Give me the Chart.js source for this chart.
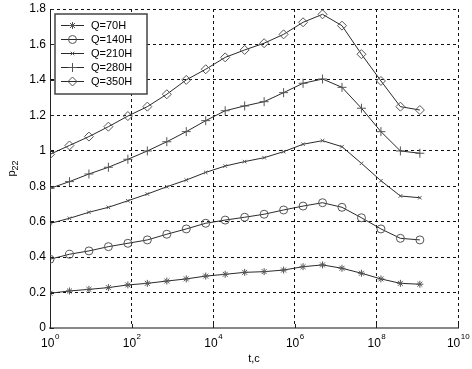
<!DOCTYPE html>
<html>
<head>
<meta charset="utf-8">
<script src="https://cdn.jsdelivr.net/npm/chart.js@4/dist/chart.umd.min.js"></script>
<style>
  html, body { margin: 0; padding: 0; background: #fff; }
  canvas { display: block; }
</style>
</head>
<body>
<canvas id="chart" width="472" height="369"></canvas>
<script>
// --- Data ---
const tValues = [1, 3, 9, 27, 81, 243, 729, 2187, 6561, 19683, 59049, 177147, 531441,
  1594323, 4782969, 14348907, 43046721, 129140163, 387420489, 1162261467];

const q70 = [0.196, 0.209, 0.218, 0.228, 0.243, 0.252, 0.265, 0.277, 0.293, 0.303,
  0.314, 0.318, 0.327, 0.346, 0.356, 0.337, 0.309, 0.277, 0.252, 0.247];
const q140 = [0.388, 0.416, 0.435, 0.459, 0.478, 0.497, 0.529, 0.559, 0.591, 0.609,
  0.625, 0.642, 0.666, 0.688, 0.707, 0.681, 0.622, 0.559, 0.506, 0.497];
const q210 = [0.590, 0.619, 0.653, 0.681, 0.718, 0.756, 0.797, 0.835, 0.878, 0.914,
  0.939, 0.961, 0.995, 1.037, 1.057, 1.023, 0.929, 0.831, 0.745, 0.735];
const q280 = [0.788, 0.826, 0.869, 0.907, 0.952, 0.999, 1.051, 1.108, 1.170, 1.226,
  1.253, 1.277, 1.328, 1.381, 1.405, 1.358, 1.240, 1.108, 0.999, 0.986];
const q350 = [0.980, 1.030, 1.080, 1.136, 1.196, 1.249, 1.319, 1.400, 1.460, 1.527,
  1.569, 1.607, 1.657, 1.725, 1.770, 1.706, 1.545, 1.394, 1.249, 1.230];

const seriesLabels = ['Q=70H', 'Q=140H', 'Q=210H', 'Q=280H', 'Q=350H'];
const xTickExps = [0, 2, 4, 6, 8, 10];
const yTicks = [0, 0.2, 0.4, 0.6, 0.8, 1, 1.2, 1.4, 1.6, 1.8];

const FONT = '"Liberation Sans", Arial, sans-serif';

// marker style per series
const markers = [
  { style: 'star', r: 3.5 },
  { style: 'circle', r: 4 },
  { style: 'crossRot', r: 2.5 },
  { style: 'cross', r: 4.5 },
  { style: 'rectRot', r: 4.5 }
];
const allSeries = [q70, q140, q210, q280, q350];

function makeDataset(values, i) {
  return {
    label: seriesLabels[i],
    data: values.map((v, k) => ({ x: tValues[k], y: v })),
    borderColor: '#2a2a2a',
    borderWidth: 1,
    pointStyle: markers[i].style,
    pointRadius: markers[i].r,
    pointBorderColor: '#555',
    pointBackgroundColor: 'rgba(0,0,0,0)',
    pointBorderWidth: 1,
    tension: 0,
    fill: false
  };
}

function drawMarker(ctx, style, r, x, y) {
  if (window.Chart && Chart.helpers && Chart.helpers.drawPoint) {
    ctx.save();
    ctx.strokeStyle = '#555';
    ctx.fillStyle = 'rgba(0,0,0,0)';
    ctx.lineWidth = 1;
    Chart.helpers.drawPoint(ctx, { pointStyle: style, radius: r, rotation: 0, borderWidth: 1 }, x, y);
    ctx.restore();
  }
}

// labels, ticks and legend drawn on top, MATLAB style
const decorPlugin = {
  id: 'decor',
  afterDraw(chart) {
    const ctx = chart.ctx;
    const xs = chart.scales.x, ys = chart.scales.y;
    const area = chart.chartArea;
    ctx.save();

    // inward tick marks
    ctx.strokeStyle = '#222';
    ctx.lineWidth = 1;
    ctx.beginPath();
    yTicks.forEach(v => {
      const py = Math.round(ys.getPixelForValue(v)) + 0.5;
      ctx.moveTo(area.left, py); ctx.lineTo(area.left + 4, py);
    });
    xTickExps.forEach(e => {
      const px = Math.round(xs.getPixelForValue(Math.pow(10, e))) + 0.5;
      ctx.moveTo(px, area.bottom); ctx.lineTo(px, area.bottom - 4);
    });
    ctx.stroke();

    // y tick labels
    ctx.fillStyle = '#000';
    ctx.font = '12px ' + FONT;
    ctx.textAlign = 'right';
    ctx.textBaseline = 'middle';
    yTicks.forEach(v => {
      ctx.fillText(String(v), area.left - 4, ys.getPixelForValue(v));
    });

    // x tick labels 10^n, whole label centred on the tick
    ctx.textAlign = 'left';
    ctx.textBaseline = 'alphabetic';
    xTickExps.forEach(e => {
      const px = xs.getPixelForValue(Math.pow(10, e));
      ctx.font = '12px ' + FONT;
      const w = ctx.measureText('10').width;
      ctx.font = '8px ' + FONT;
      const we = ctx.measureText(String(e)).width;
      const x0 = px - (w + we) / 2;
      ctx.font = '12px ' + FONT;
      ctx.fillText('10', x0, area.bottom + 19);
      ctx.font = '8px ' + FONT;
      ctx.fillText(String(e), x0 + w + 0.5, area.bottom + 11);
    });

    // axis titles
    ctx.font = '11px ' + FONT;
    ctx.textAlign = 'center';
    ctx.fillText('t,c', (area.left + area.right) / 2, area.bottom + 34);

    ctx.save();
    ctx.translate(15, (area.top + area.bottom) / 2);
    ctx.rotate(-Math.PI / 2);
    ctx.font = '11px ' + FONT;
    const pw = ctx.measureText('p').width;
    ctx.font = '9px ' + FONT;
    const sw = ctx.measureText('22').width;
    const lx0 = -(pw + sw) / 2;
    ctx.textAlign = 'left';
    ctx.font = '11px ' + FONT;
    ctx.fillText('p', lx0, 0);
    ctx.font = '9px ' + FONT;
    ctx.fillText('22', lx0 + pw, 3);
    ctx.restore();

    // legend box
    const lx = area.left + 5, ly = area.top + 5, lw = 92, lh = 80;
    ctx.fillStyle = '#fff';
    ctx.fillRect(lx, ly, lw, lh);
    ctx.strokeStyle = '#444';
    ctx.lineWidth = 1.5;
    ctx.strokeRect(lx, ly, lw, lh);
    chart.data.datasets.forEach((ds, i) => {
      const ry = ly + 11 + i * 14;
      ctx.strokeStyle = '#2a2a2a';
      ctx.lineWidth = 1;
      ctx.beginPath();
      ctx.moveTo(lx + 6, ry + 0.5); ctx.lineTo(lx + 29, ry + 0.5);
      ctx.stroke();
      drawMarker(ctx, ds.pointStyle, ds.pointRadius, lx + 17.5, ry + 0.5);
      ctx.fillStyle = '#000';
      ctx.font = '11px ' + FONT;
      ctx.textAlign = 'left';
      ctx.textBaseline = 'middle';
      ctx.fillText(ds.label, lx + 36, ry + 1);
    });

    ctx.restore();
  }
};

const chart = new Chart(document.getElementById('chart'), {
  type: 'line',
  data: { datasets: allSeries.map(makeDataset) },
  options: {
    responsive: false,
    animation: false,
    devicePixelRatio: 1,
    layout: { padding: { left: 50, right: 14, top: 9, bottom: 41 } },
    plugins: { legend: { display: false }, tooltip: { enabled: false } },
    scales: {
      x: {
        type: 'logarithmic',
        min: 1,
        max: 1e10,
        afterBuildTicks: axis => {
          axis.ticks = xTickExps.map(e => ({ value: Math.pow(10, e) }));
        },
        ticks: { display: false },
        grid: { color: '#111', lineWidth: 1, drawTicks: false, tickLength: 0 },
        border: { display: true, color: '#888', width: 2, dash: [3, 3] }
      },
      y: {
        min: 0,
        max: 1.8,
        afterBuildTicks: axis => {
          axis.ticks = yTicks.map(v => ({ value: v }));
        },
        ticks: { display: false },
        grid: { color: '#111', lineWidth: 1, drawTicks: false, tickLength: 0 },
        border: { display: true, color: '#222', width: 1, dash: [3, 3] }
      }
    }
  },
  plugins: [decorPlugin]
});
</script>
</body>
</html>
